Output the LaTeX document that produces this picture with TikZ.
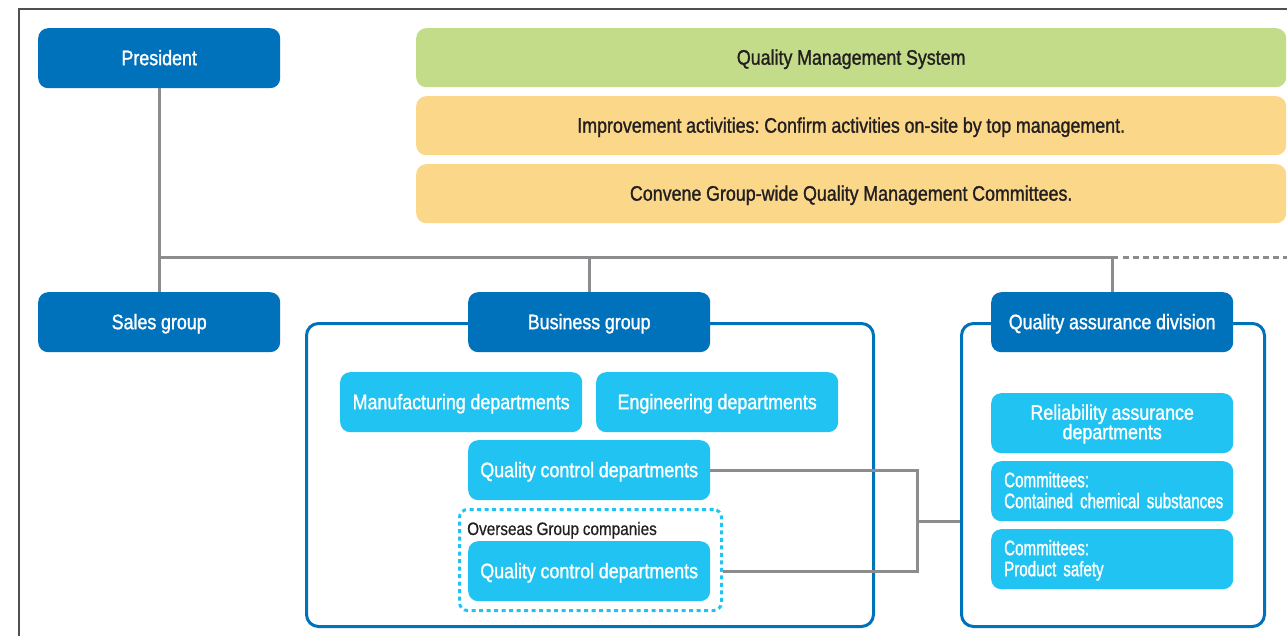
\documentclass[tikz,border=0pt]{standalone}
\usepackage{fontspec}
\setmainfont{Liberation Sans}[FakeStretch=0.85, FakeBold=1.2, WordSpace=0.95]
\newfontfamily\narrowfont{Liberation Sans}[FakeStretch=0.72, FakeBold=1.2, WordSpace=0.85]
\newfontfamily\plainfont{Liberation Sans}[FakeStretch=0.85, FakeBold=0.6, WordSpace=0.9]
\frenchspacing
\newcommand{\tightlines}{\lineskiplimit=-30pt\relax}
\definecolor{dblue}{RGB}{0,113,187}
\definecolor{lblue}{RGB}{33,195,242}
\definecolor{qgreen}{RGB}{194,220,137}
\definecolor{qyellow}{RGB}{251,215,138}
\definecolor{lgray}{RGB}{140,140,142}
\definecolor{fgray}{RGB}{80,80,80}
\definecolor{txt}{RGB}{35,31,32}
\tikzset{
  base/.style={rounded corners=10pt, minimum height=60pt, inner sep=0pt, anchor=north west,
               text height=14pt, text depth=0pt,
               font=\fontsize{21}{24}\selectfont, align=center},
  dark/.style={base, fill=dblue, text=white, minimum width=242pt},
  light/.style={base, fill=lblue, text=white, minimum width=242pt},
  comm/.style={light, text width=216pt, inner xsep=13pt, align=left,
               text height=0pt, text depth=8pt,
               font=\narrowfont\fontsize{21}{21}\selectfont},
  bar/.style={base, text=txt, minimum width=870pt, minimum height=59pt},
  frame/.style={draw=dblue, line width=3pt, rounded corners=12pt, anchor=north west, inner sep=0pt},
  conn/.style={draw=lgray, line width=3pt},
}
\begin{document}
\begin{tikzpicture}[x=1pt,y=-1pt]
\useasboundingbox (0,0) rectangle (1287,636);
% outer frame
\draw[fgray, line width=1.5pt] (19,640) -- (19,9) -- (1290,9);

% top row
\node[dark] (pres) at (38,28) {President};
\node[bar, fill=qgreen] (qms) at (416,28) {Quality Management System};
\node[bar, fill=qyellow] (imp) at (416,96) {Improvement activities: Confirm activities on-site by top management.};
\node[bar, fill=qyellow] (conv) at (416,164) {Convene Group-wide Quality Management Committees.};

% frames
\node[frame, minimum width=567pt, minimum height=303pt] (bframe) at (305,322) {};
\node[frame, minimum width=303pt, minimum height=303pt] (qframe) at (960,322) {};
\node[draw=lblue, line width=3pt, dash pattern=on 4pt off 3.5pt, rounded corners=8pt,
      anchor=north west, inner sep=0pt, minimum width=262pt, minimum height=101pt] (dot) at (458,508) {};

% second row
\node[dark] (sales) at (38,292) {Sales group};
\node[dark] (bg) at (468,292) {Business group};
\node[dark] (qa) at (991,292) {Quality assurance division};

% business group contents
\node[light] (man) at (340,372) {Manufacturing departments};
\node[light] (eng) at (596,372) {Engineering departments};
\node[light] (qc1) at (468,440) {Quality control departments};
\node[anchor=base west, inner sep=0pt, text=txt, font=\plainfont\fontsize{18}{20}\selectfont] (ovs) at (467,535) {Overseas Group companies};
\node[light] (qc2) at (468,541) {Quality control departments};

% QA contents
\node[light, text height=32pt, text depth=0pt, font=\fontsize{21}{19.5}\selectfont\tightlines] (rel) at (991,393) {Reliability assurance\\departments};
\node[comm] (c1) at (991,461) {\mbox{Committees:}\\\mbox{Contained chemical substances}};
\node[comm] (c2) at (991,529) {\mbox{Committees:}\\\mbox{Product safety}};

% connectors
\coordinate (hl) at (159,258);
\coordinate (hr) at (1118,258);
\coordinate (hend) at (1290,258);
\draw[conn] (pres.south) -- (sales.north);
\draw[conn] (hl) -- (hr);
\draw[conn, dash pattern=on 6pt off 4pt] ([xshift=5pt]hr) -- (hend);
\draw[conn] (bg.north) -- (bg.north |- hl);
\draw[conn] (qa.north) -- (qa.north |- hl);

\coordinate (brk) at (917,521);
\draw[conn] (qc1.east) -| (brk) |- (dot.east |- qc2.east);
\draw[conn] (brk) -- (brk -| qframe.west);
\end{tikzpicture}
\end{document}
